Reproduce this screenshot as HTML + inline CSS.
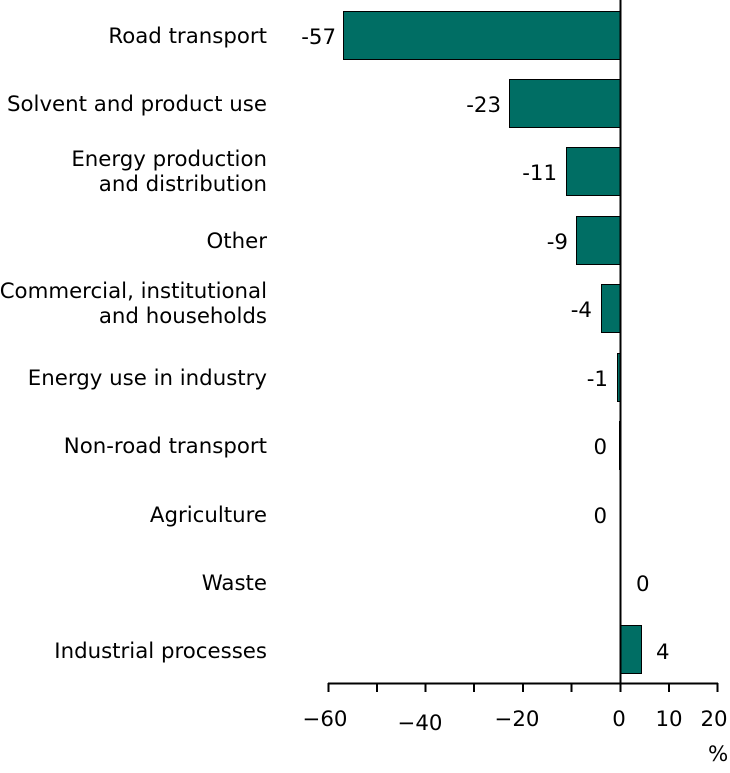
<!DOCTYPE html>
<html><head><style>
body{margin:0;background:#fff;}
svg text{font-family:"DejaVu Sans","Liberation Sans",sans-serif;font-size:21.3px;fill:#000;}
</style></head><body>
<svg width="730" height="768" xmlns="http://www.w3.org/2000/svg">
<g fill="#006e64" stroke="#000" stroke-width="1">
<rect x="343.5" y="11.5" width="277" height="48"/>
<rect x="509.5" y="79.5" width="111" height="48"/>
<rect x="566.5" y="147.5" width="54" height="48"/>
<rect x="576.5" y="216.5" width="44" height="48"/>
<rect x="601.5" y="284.5" width="19" height="48"/>
<rect x="617.5" y="353.5" width="3" height="48"/>
<rect x="619.5" y="421.5" width="1" height="48"/>
<rect x="620.5" y="625.5" width="21" height="48"/>
</g>
<g stroke="#000" stroke-width="2" fill="none">
<line x1="620.5" y1="0" x2="620.5" y2="684"/>
<line x1="328" y1="683.5" x2="718" y2="683.5"/>
<line x1="328.5" y1="683" x2="328.5" y2="692"/>
<line x1="377" y1="683" x2="377" y2="692"/>
<line x1="425.5" y1="683" x2="425.5" y2="692"/>
<line x1="474" y1="683" x2="474" y2="692"/>
<line x1="523" y1="683" x2="523" y2="692"/>
<line x1="571.5" y1="683" x2="571.5" y2="692"/>
<line x1="620.5" y1="683" x2="620.5" y2="692"/>
<line x1="669" y1="683" x2="669" y2="692"/>
<line x1="717.5" y1="683" x2="717.5" y2="692"/>
</g>
<g text-anchor="end">
<text x="267" y="43">Road transport</text>
<text x="267" y="111">Solvent and product use</text>
<text x="267" y="166">Energy production</text>
<text x="267" y="191">and distribution</text>
<text x="267" y="248">Other</text>
<text x="267" y="298">Commercial, institutional</text>
<text x="267" y="323">and households</text>
<text x="267" y="385">Energy use in industry</text>
<text x="267" y="453">Non-road transport</text>
<text x="267" y="522">Agriculture</text>
<text x="267" y="590">Waste</text>
<text x="267" y="658">Industrial processes</text>
<text x="336" y="44">-57</text>
<text x="501" y="112">-23</text>
<text x="557" y="180">-11</text>
<text x="568" y="249">-9</text>
<text x="592" y="317">-4</text>
<text x="608" y="386">-1</text>
<text x="607" y="454">0</text>
<text x="607" y="523">0</text>
</g>
<text x="636" y="591">0</text>
<text x="656" y="659">4</text>
<g text-anchor="middle">
<text x="325" y="726">−60</text>
<text x="420" y="730">−40</text>
<text x="517" y="726">−20</text>
<text x="619" y="726">0</text>
<text x="669" y="726">10</text>
<text x="714" y="726">20</text>
</g>
<text x="708" y="761">%</text>
</svg>
</body></html>
